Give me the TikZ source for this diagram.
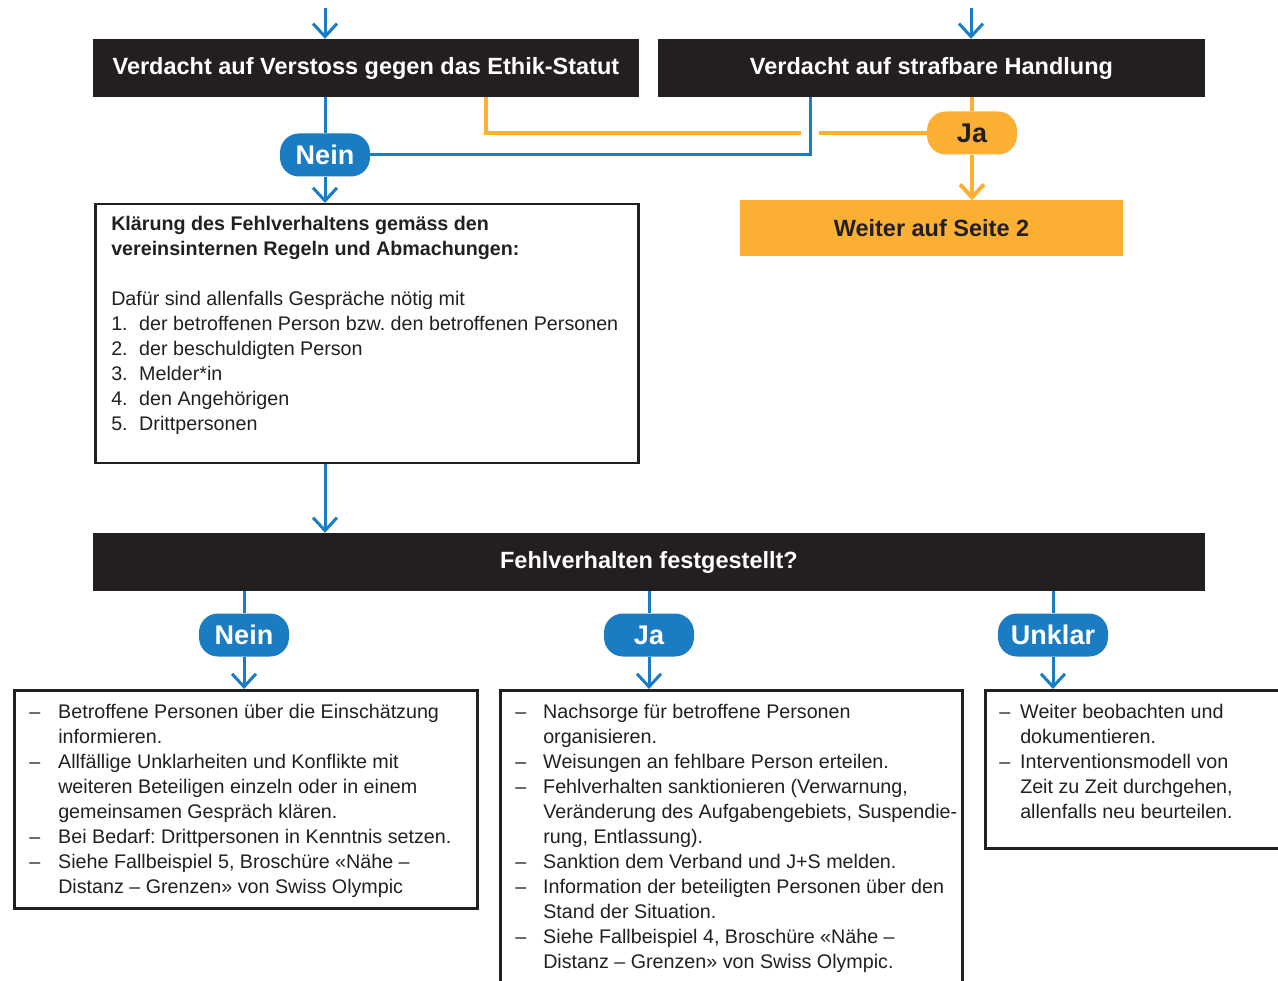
\documentclass[tikz,border=0pt]{standalone}
\usepackage{fontspec}
\setmainfont{Liberation Sans}
\usetikzlibrary{arrows.meta, positioning}
\usepackage{xcolor}

\definecolor{flowblue}{HTML}{1A7DC4}
\definecolor{floworange}{HTML}{FBB034}
\definecolor{flowblack}{HTML}{231F20}

% one list entry with hanging indent
\newcommand{\hangitem}[3]{\par\hangindent=#1\hangafter=1\noindent\makebox[#1][l]{#2}#3}
% text of a framed box: height, width, left margin, top gap, body
\newcommand{\boxbody}[5]{\parbox[t][#1][t]{#2}{\fontsize{19.7}{25}\selectfont\raggedright\frenchspacing
  \leftskip=#3\relax\rightskip=-40pt plus 1fil\relax\vspace*{#4}#5\par}}

\tikzset{
  flowline/.style={draw=flowblue, line width=3pt},
  flowarrow/.style={flowline, -{Straight Barb[length=13pt, width=24pt]}},
  orangeline/.style={draw=floworange, line width=4pt},
  orangearrow/.style={orangeline, -{Straight Barb[length=13pt, width=24pt]}},
  headbox/.style={fill=flowblack, text=white, inner sep=0pt, minimum height=58pt,
    font=\bfseries\fontsize{23.5}{28}\selectfont},
  pill/.style={fill=flowblue, text=white, rounded corners=19pt, inner xsep=13pt,
    minimum width=90pt, minimum height=43pt, font=\bfseries\fontsize{27}{32}\selectfont},
  textbox/.style={draw=flowblack, line width=2.5pt, inner sep=0pt, anchor=north west,
    text=flowblack}
}

\begin{document}
\begin{tikzpicture}[x=1pt, y=-1pt]
    \useasboundingbox (0,0) rectangle (1278,981);

    % dark headers
    \node[headbox, minimum width=546pt] (ethik) at (366,68) {Verdacht auf Verstoss gegen das Ethik-Statut};
    \node[headbox, minimum width=547pt] (straf) at (931.5,68) {Verdacht auf strafbare Handlung};
    \node[headbox, minimum width=1112pt] (fest) at (649,562) {Fehlverhalten festgestellt?};
    \node[fill=floworange, text=flowblack, inner sep=0pt, minimum width=383pt, minimum height=56pt,
      font=\bfseries\fontsize{23.5}{28}\selectfont] (seite2) at (931.5,228.5) {Weiter auf Seite 2};

    % answers
    \node[pill] (neinA) at (325,155) {Nein};
    \node[pill, fill=floworange, text=flowblack] (jaA) at (972,133) {Ja};
    \node[pill] (neinB) at (244,635) {Nein};
    \node[pill] (jaB) at (649,635) {Ja};
    \node[pill] (unklar) at (1053,635) {Unklar};

    % framed texts
    \node[textbox] (klaerung) at (94,203) {\boxbody{259pt}{543pt}{16pt}{12pt}{%
      {\bfseries Klärung des Fehlverhaltens gemäss den\newline vereinsinternen Regeln und Abmachungen:\par}
      \vskip 25pt
      Dafür sind allenfalls Gespräche nötig mit
      \hangitem{28pt}{1.}{der betroffenen Person bzw. den betroffenen Personen}
      \hangitem{28pt}{2.}{der beschuldigten Person}
      \hangitem{28pt}{3.}{Melder*in}
      \hangitem{28pt}{4.}{den Angehörigen}
      \hangitem{28pt}{5.}{Drittpersonen}}};
    \node[textbox] (listNein) at (13,689) {\boxbody{218pt}{463pt}{15pt}{14pt}{%
      \hangitem{29pt}{--}{Betroffene Personen über die Einschätzung\newline informieren.}
      \hangitem{29pt}{--}{Allfällige Unklarheiten und Konflikte mit\newline weiteren Beteiligen einzeln oder in einem\newline gemeinsamen Gespräch klären.}
      \hangitem{29pt}{--}{Bei Bedarf: Drittpersonen in Kenntnis setzen.}
      \hangitem{29pt}{--}{Siehe Fallbeispiel 5, Broschüre «Nähe --\newline Distanz -- Grenzen» von Swiss Olympic}}};
    \node[textbox] (listJa) at (499,689) {\boxbody{310pt}{462pt}{15pt}{14pt}{%
      \hangitem{28pt}{--}{Nachsorge für betroffene Personen\newline organisieren.}
      \hangitem{28pt}{--}{Weisungen an fehlbare Person erteilen.}
      \hangitem{28pt}{--}{Fehlverhalten sanktionieren (Verwarnung,\newline Veränderung des Aufgabengebiets, Suspendie-\newline rung, Entlassung).}
      \hangitem{28pt}{--}{Sanktion dem Verband und J+S melden.}
      \hangitem{28pt}{--}{Information der beteiligten Personen über den\newline Stand der Situation.}
      \hangitem{28pt}{--}{Siehe Fallbeispiel 4, Broschüre «Nähe --\newline Distanz -- Grenzen» von Swiss Olympic.}}};
    \node[textbox] (listUnklar) at (984,689) {\boxbody{158pt}{320pt}{14pt}{14pt}{%
      \hangitem{21pt}{--}{Weiter beobachten und\newline dokumentieren.}
      \hangitem{21pt}{--}{Interventionsmodell von\newline Zeit zu Zeit durchgehen,\newline allenfalls neu beurteilen.}}};

    \coordinate (inA) at (325,8);
    \coordinate (inB) at (971,8);
    \coordinate (bend) at (810,155);
    \coordinate (splitA) at (486,133);
    \coordinate (gapL) at (801,133);
    \coordinate (gapR) at (819,133);

    % incoming
    \draw[flowarrow] (inA) -- (inA |- ethik.north);
    \draw[flowarrow] (inB) -- (inB |- straf.north);

    % first decision
    \draw[flowline] (neinA |- ethik.south) -- (neinA);
    \draw[flowarrow] (neinA) -- (neinA |- klaerung.north);
    \draw[flowline] (neinA) -- (bend) -- (bend |- straf.south);
    \draw[orangeline] (splitA |- ethik.south) -- (splitA) -- (gapL);
    \draw[orangeline] (gapR) -- (jaA);
    \draw[orangeline] (jaA |- straf.south) -- (jaA);
    \draw[orangearrow] (jaA) -- (jaA |- seite2.north);

    % second decision
    \draw[flowarrow] (neinA |- klaerung.south) -- (neinA |- fest.north);
    \draw[flowline] (neinB |- fest.south) -- (neinB);
    \draw[flowline] (jaB |- fest.south) -- (jaB);
    \draw[flowline] (unklar |- fest.south) -- (unklar);
    \draw[flowarrow] (neinB) -- (neinB |- listNein.north);
    \draw[flowarrow] (jaB) -- (jaB |- listJa.north);
    \draw[flowarrow] (unklar) -- (unklar |- listUnklar.north);
\end{tikzpicture}
\end{document}
